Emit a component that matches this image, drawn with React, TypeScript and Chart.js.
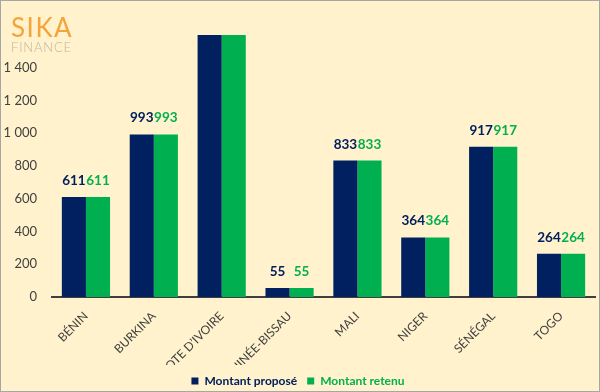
import React, { useEffect, useRef } from "react";
import { Chart, registerables } from "chart.js";

Chart.register(...registerables);

const categories = [
  "BÉNIN",
  "BURKINA",
  "COTE D’IVOIRE",
  "GUINÉE-BISSAU",
  "MALI",
  "NIGER",
  "SÉNÉGAL",
  "TOGO",
];
const proposedValues = [611, 993, 1650, 55, 833, 364, 917, 264];
const retainedValues = [611, 993, 1650, 55, 833, 364, 917, 264];
const seriesNames = ["Montant proposé", "Montant retenu"];
const seriesColors = ["#002060", "#00B050"];
const yTickValues = [0, 200, 400, 600, 800, 1000, 1200, 1400];
const yAxisMax = 1600;

const fmt = (v: number) => String(v).replace(/\B(?=(\d{3})+(?!\d))/g, " ");

const valueLabels = {
  id: "valueLabels",
  afterDatasetsDraw(chart: any) {
    const ctx = chart.ctx;
    const yScale = chart.scales.y;
    ctx.save();
    ctx.font = "bold 13.5px Lato";
    ctx.textAlign = "center";
    ctx.textBaseline = "alphabetic";
    chart.data.datasets.forEach((ds: any, di: number) => {
      const meta = chart.getDatasetMeta(di);
      ctx.fillStyle = ds.backgroundColor;
      meta.data.forEach((bar: any, i: number) => {
        const v = ds.data[i];
        if (v > yScale.max) return;
        ctx.fillText(fmt(v), bar.x, bar.y - 12);
      });
    });
    ctx.restore();
  },
};

export default function App() {
  const ref = useRef<HTMLCanvasElement | null>(null);

  useEffect(() => {
    if (!ref.current) return;
    const chart = new Chart(ref.current, {
      type: "bar",
      data: {
        labels: categories,
        datasets: [
          {
            label: seriesNames[0],
            data: proposedValues,
            backgroundColor: seriesColors[0],
            borderWidth: 0,
            clip: 0,
            categoryPercentage: 0.71,
            barPercentage: 1.0,
          },
          {
            label: seriesNames[1],
            data: retainedValues,
            backgroundColor: seriesColors[1],
            borderWidth: 0,
            clip: 0,
            categoryPercentage: 0.71,
            barPercentage: 1.0,
          },
        ],
      },
      options: {
        responsive: false,
        animation: false,
        layout: { padding: { top: 34, right: 4, left: 0, bottom: -6 } },
        scales: {
          x: {
            grid: { display: false, drawTicks: false },
            border: { display: true, color: "#3F3F3F", width: 2 },
            ticks: {
              autoSkip: false,
              maxRotation: 45,
              minRotation: 45,
              padding: 12,
              color: "#404040",
              font: { family: "Lato", size: 12 },
            },
            afterFit: (s: any) => {
              s.height = 68;
            },
          },
          y: {
            min: 0,
            max: yAxisMax,
            grid: { display: false, drawTicks: false },
            border: { display: false },
            afterBuildTicks: (s: any) => {
              s.ticks = yTickValues.map((v) => ({ value: v }));
            },
            ticks: {
              padding: 15,
              color: "#404040",
              font: { family: "Lato", size: 13 },
              callback: (v: any) => fmt(Number(v)),
            },
            afterFit: (s: any) => {
              s.width = 51;
            },
          },
        },
        plugins: {
          tooltip: { enabled: false },
          legend: {
            position: "bottom",
            labels: {
              boxWidth: 7,
              boxHeight: 7,
              padding: 10,
              font: { family: "Lato", size: 12, weight: "bold" },
              generateLabels: (c: any) =>
                (Chart.defaults.plugins.legend.labels as any)
                  .generateLabels(c)
                  .map((it: any, i: number) => ({
                    ...it,
                    fontColor: seriesColors[i],
                    lineWidth: 0,
                  })),
            },
          },
        },
      } as any,
      plugins: [valueLabels],
    });
    return () => chart.destroy();
  }, []);

  return (
    <div
      style={{
        position: "fixed",
        left: 0,
        top: 0,
        width: 600,
        height: 392,
        boxSizing: "border-box",
        border: "1px solid #A6A6A6",
        background: "#FFF2CC",
        overflow: "hidden",
      }}
    >
      <canvas
        ref={ref}
        width={598}
        height={390}
        style={{ position: "absolute", left: 0, top: 0, width: 598, height: 390 }}
      />
      <div
        style={{
          position: "absolute",
          left: 10,
          top: 13,
          fontFamily: "Lato, sans-serif",
          fontWeight: 400,
          fontSize: 26,
          lineHeight: "26px",
          letterSpacing: 1.5,
          color: "#F5A33B",
          whiteSpace: "nowrap",
        }}
      >
        SIKA
      </div>
      <div
        style={{
          position: "absolute",
          left: 10,
          top: 40,
          fontFamily: "Lato, sans-serif",
          fontWeight: 300,
          fontSize: 13,
          lineHeight: "13px",
          letterSpacing: 0.8,
          color: "#C4B49A",
          whiteSpace: "nowrap",
        }}
      >
        FINANCE
      </div>
    </div>
  );
}
